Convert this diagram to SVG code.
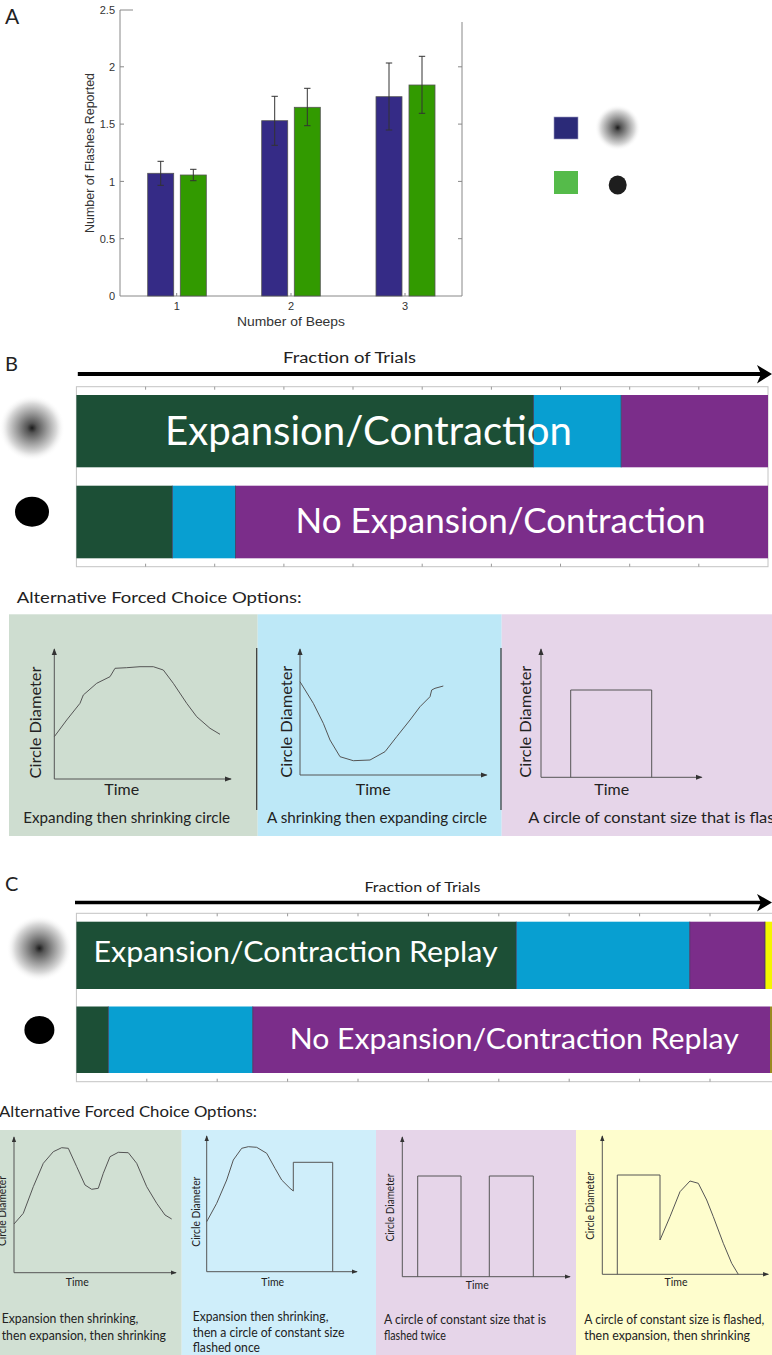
<svg xmlns="http://www.w3.org/2000/svg" width="772" height="1355" viewBox="0 0 772 1355">
<style>
.sans{font-family:"Liberation Sans",Arial,sans-serif;fill:#333}
.cal{font-family:Lato,"Open Sans",sans-serif;fill:#222}
.wht{font-family:Lato,"Open Sans",sans-serif;fill:#fff}
.ax{stroke:#888;stroke-width:1;fill:none}
.eb{stroke:#333;stroke-width:1;fill:none}
.cv{stroke:#555;stroke-width:1;fill:none}
.gax{stroke:#555;stroke-width:1;fill:none}
.frm{stroke:#c4c4c4;stroke-width:1;fill:#fff}
.tk{stroke:#999;stroke-width:1}
.dg{fill:#1C4F36}.cy{fill:#089FD1}.pu{fill:#7B2D8A}.ye{fill:#F5F500}
</style>
<defs>
<radialGradient id="blur" cx="0.5" cy="0.5" r="0.5">
<stop offset="0" stop-color="#1a1a1a"/>
<stop offset="0.15" stop-color="#555"/>
<stop offset="0.45" stop-color="#9a9a9a"/>
<stop offset="0.75" stop-color="#dcdcdc"/>
<stop offset="1" stop-color="#fff" stop-opacity="0"/>
</radialGradient>
<marker id="ah" viewBox="0 0 8 6" refX="7" refY="3" markerWidth="7" markerHeight="6" markerUnits="userSpaceOnUse" orient="auto">
<path d="M0,0 L8,3 L0,6 z" fill="#333"/>
</marker>
<marker id="ahs" viewBox="0 0 8 6" refX="7" refY="3" markerWidth="6" markerHeight="5" markerUnits="userSpaceOnUse" orient="auto">
<path d="M0,0 L8,3 L0,6 z" fill="#333"/>
</marker>
</defs>
<rect width="772" height="1355" fill="#fff"/>

<!-- Panel A -->
<g id="panelA">
<text x="5" y="24" class="cal" font-size="21">A</text>
<g id="chartA-axes">
<path class="ax" d="M120,10 H133 M120,10 V296 H462 V22"/>
<path class="ax" d="M120,66.8 h4 M120,124.1 h4 M120,181.4 h4 M120,238.7 h4 M462,66.8 h-4 M462,124.1 h-4 M462,181.4 h-4 M462,238.7 h-4 M176.7,296 v-3 M291,296 v-3 M405,296 v-3"/>
<g class="sans" font-size="11" text-anchor="end">
<text x="115" y="14">2.5</text>
<text x="115" y="71">2</text>
<text x="115" y="128">1.5</text>
<text x="115" y="185.5">1</text>
<text x="115" y="242.5">0.5</text>
<text x="115" y="300">0</text>
</g>
<g class="sans" font-size="11" text-anchor="middle">
<text x="176.7" y="310">1</text>
<text x="291" y="310">2</text>
<text x="405" y="310">3</text>
</g>
<text x="291" y="326" class="sans" font-size="13" text-anchor="middle" textLength="108" lengthAdjust="spacingAndGlyphs">Number of Beeps</text>
<text transform="translate(94,153) rotate(-90)" class="sans" font-size="13" text-anchor="middle" textLength="160" lengthAdjust="spacingAndGlyphs">Number of Flashes Reported</text>
</g>
<g id="barsA" stroke="#555" stroke-width="0.8">
<rect x="147.7" y="173.3" width="26" height="122.7" fill="#352B86"/>
<rect x="180.3" y="175" width="26" height="121" fill="#329A00"/>
<rect x="261.7" y="120.7" width="26" height="175.3" fill="#352B86"/>
<rect x="294.3" y="107.3" width="26" height="188.7" fill="#329A00"/>
<rect x="376" y="96.7" width="26" height="199.3" fill="#352B86"/>
<rect x="409" y="85" width="26" height="211" fill="#329A00"/>
</g>
<g id="errorbarsA" class="eb">
<path d="M160.7,161.3 V185.3 M157.5,161.3 h6.4 M157.5,185.3 h6.4"/>
<path d="M193.3,169.3 V180.7 M190.1,169.3 h6.4 M190.1,180.7 h6.4"/>
<path d="M274.7,96.3 V145.3 M271.5,96.3 h6.4 M271.5,145.3 h6.4"/>
<path d="M307.3,88.3 V125.7 M304.1,88.3 h6.4 M304.1,125.7 h6.4"/>
<path d="M389,63 V130 M385.8,63 h6.4 M385.8,130 h6.4"/>
<path d="M422,56.3 V113.3 M418.8,56.3 h6.4 M418.8,113.3 h6.4"/>
</g>
<g id="legendA">
<rect x="554" y="117" width="24" height="22" fill="#2B2A78" stroke="#9a9ac0" stroke-width="0.6"/>
<circle cx="617.7" cy="127.7" r="23" fill="url(#blur)"/>
<rect x="554" y="171" width="24" height="23" fill="#55BB4A"/>
<ellipse cx="617.7" cy="185" rx="9" ry="9.5" fill="#1e1e1e"/>
</g>
</g>

<!-- Panel B -->
<g id="panelB">
<text x="5" y="371" class="cal" font-size="20">B</text>
<text x="349.5" y="363" class="cal" font-size="15" text-anchor="middle" textLength="133" lengthAdjust="spacingAndGlyphs">Fraction of Trials</text>
<g id="arrowB">
<line x1="77.8" y1="374" x2="763" y2="374" stroke="#000" stroke-width="4"/>
<path d="M772,374 L757,365 L761,374 L757,383.5 Z" fill="#000"/>
</g>
<g id="chartB">
<rect class="frm" x="76.4" y="386.7" width="691.6" height="180"/>
<path class="tk" d="M145.6,386.7v3 M214.7,386.7v3 M283.9,386.7v3 M353.0,386.7v3 M422.2,386.7v3 M491.4,386.7v3 M560.5,386.7v3 M629.7,386.7v3 M698.8,386.7v3 M145.6,566.7v-3 M214.7,566.7v-3 M283.9,566.7v-3 M353.0,566.7v-3 M422.2,566.7v-3 M491.4,566.7v-3 M560.5,566.7v-3 M629.7,566.7v-3 M698.8,566.7v-3"/>
<g id="barB1">
<rect class="dg" x="76.4" y="395" width="457.1" height="72.3"/>
<rect class="cy" x="533.5" y="395" width="87.7" height="72.3"/>
<rect class="pu" x="621.2" y="395" width="146.8" height="72.3"/>
<path d="M533.5,395v72.3 M621.2,395v72.3" stroke="#3a3a5a" stroke-width="0.8"/>
<text x="368.5" y="445" class="wht" font-size="40" text-anchor="middle" textLength="407" lengthAdjust="spacingAndGlyphs">Expansion/Contraction</text>
</g>
<g id="barB2">
<rect class="dg" x="76.4" y="485.7" width="96" height="72.6"/>
<rect class="cy" x="172.4" y="485.7" width="63.1" height="72.6"/>
<rect class="pu" x="235.5" y="485.7" width="532.5" height="72.6"/>
<path d="M172.4,485.7v72.6 M235.5,485.7v72.6" stroke="#3a3a5a" stroke-width="0.8"/>
<text x="500.5" y="533" class="wht" font-size="35" text-anchor="middle" textLength="410" lengthAdjust="spacingAndGlyphs">No Expansion/Contraction</text>
</g>
</g>
<g id="iconsB">
<circle cx="32" cy="428" r="33" fill="url(#blur)"/>
<ellipse cx="32" cy="511.7" rx="17" ry="15" fill="#000"/>
</g>
<text x="16.7" y="602.7" class="cal" font-size="16" textLength="285" lengthAdjust="spacingAndGlyphs">Alternative Forced Choice Options:</text>
<g id="afcB1">
<rect x="9" y="614.3" width="248.7" height="221.7" fill="#CEDDD0"/>
<path class="gax" d="M54.3,779 V649" marker-end="url(#ah)"/>
<path class="gax" d="M54.3,779 H231" marker-end="url(#ah)"/>
<path class="cv" d="M54.3,736.7 L66.7,720 L80,703.3 L83.3,695 L96.7,683.3 L110,676.7 L115,668.3 L126.7,667.7 L140,666.7 L153.3,666.7 L163.3,670 L173.3,683.3 L186.7,703.3 L196.7,716.7 L210,728.3 L220,734.3"/>
<text transform="translate(41,722.5) rotate(-90)" class="cal" font-size="16" text-anchor="middle" textLength="112" lengthAdjust="spacingAndGlyphs">Circle Diameter</text>
<text x="121.7" y="794.5" class="cal" font-size="16" text-anchor="middle">Time</text>
<text x="23.3" y="822.5" class="cal" font-size="15" textLength="206.7" lengthAdjust="spacingAndGlyphs">Expanding then shrinking circle</text>
</g>
<g id="afcB2">
<rect x="257.7" y="614.3" width="244" height="221.7" fill="#BDE8F7"/>
<path class="gax" d="M300,775 V649" marker-end="url(#ah)"/>
<path class="gax" d="M300,775 H486.7" marker-end="url(#ah)"/>
<path class="cv" d="M300,681.7 L313.3,703.3 L323.3,723.3 L330,740 L340,756.7 L353.3,760.7 L370,760 L385,751.7 L396.7,736.7 L410,720 L420,706.7 L430,696.7 L431.7,690 L435,688.3 L443.3,686"/>
<text transform="translate(291.5,721.7) rotate(-90)" class="cal" font-size="16" text-anchor="middle" textLength="112" lengthAdjust="spacingAndGlyphs">Circle Diameter</text>
<text x="373.3" y="794.5" class="cal" font-size="16" text-anchor="middle">Time</text>
<text x="267" y="822.5" class="cal" font-size="15" textLength="220" lengthAdjust="spacingAndGlyphs">A shrinking then expanding circle</text>
</g>
<g id="afcB3">
<rect x="501.7" y="614.3" width="270.3" height="221.7" fill="#E6D5E9"/>
<path class="gax" d="M541,777.3 V649" marker-end="url(#ah)"/>
<path class="gax" d="M541,777.3 H701.7" marker-end="url(#ah)"/>
<path class="cv" d="M570.7,777.3 V690 H651.7 V777.3"/>
<text transform="translate(530.5,721.7) rotate(-90)" class="cal" font-size="16" text-anchor="middle" textLength="112" lengthAdjust="spacingAndGlyphs">Circle Diameter</text>
<text x="611.7" y="794.5" class="cal" font-size="16" text-anchor="middle">Time</text>
<text x="528.3" y="822.5" class="cal" font-size="15" textLength="273" lengthAdjust="spacingAndGlyphs">A circle of constant size that is flashed</text>
</g>
<g id="dividersB" stroke="#333" stroke-width="1.2">
<line x1="256.7" y1="648" x2="256.7" y2="810"/>
<line x1="501" y1="648" x2="501" y2="810"/>
</g>
</g>

<!-- Panel C -->
<g id="panelC">
<text x="5" y="891" class="cal" font-size="20">C</text>
<text x="422.4" y="891.5" class="cal" font-size="14" text-anchor="middle" textLength="116" lengthAdjust="spacingAndGlyphs">Fraction of Trials</text>
<g id="arrowC">
<line x1="75" y1="902.5" x2="763" y2="902.5" stroke="#000" stroke-width="3.5"/>
<path d="M772,902.5 L757,894 L761,902.5 L757,911.5 Z" fill="#000"/>
</g>
<g id="chartC">
<rect class="frm" x="76.4" y="913.3" width="710" height="168.4"/>
<path class="tk" d="M146.8,913.3v3 M217.2,913.3v3 M287.6,913.3v3 M358.0,913.3v3 M428.4,913.3v3 M498.8,913.3v3 M569.2,913.3v3 M639.6,913.3v3 M710.0,913.3v3 M146.8,1081.7v-3 M217.2,1081.7v-3 M287.6,1081.7v-3 M358.0,1081.7v-3 M428.4,1081.7v-3 M498.8,1081.7v-3 M569.2,1081.7v-3 M639.6,1081.7v-3 M710.0,1081.7v-3"/>
<g id="barC1">
<rect class="dg" x="76.4" y="921.7" width="439.9" height="67.3"/>
<rect class="cy" x="516.3" y="921.7" width="173.4" height="67.3"/>
<rect class="pu" x="689.7" y="921.7" width="75.3" height="67.3"/>
<rect class="ye" x="765" y="921.7" width="7" height="67.3"/>
<path d="M516.3,921.7v67.3 M689.7,921.7v67.3 M765,921.7v67.3" stroke="#3a3a5a" stroke-width="0.8"/>
<text x="93.6" y="962" class="wht" font-size="29" textLength="404" lengthAdjust="spacingAndGlyphs">Expansion/Contraction Replay</text>
</g>
<g id="barC2">
<rect class="dg" x="76.4" y="1006.5" width="32" height="66.5"/>
<rect class="cy" x="108.4" y="1006.5" width="144.3" height="66.5"/>
<rect class="pu" x="252.7" y="1006.5" width="517.3" height="66.5"/>
<rect x="770" y="1006.5" width="2" height="66.5" fill="#9a8a20"/>
<path d="M108.4,1006.5v66.5 M252.7,1006.5v66.5" stroke="#3a3a5a" stroke-width="0.8"/>
<text x="289.7" y="1048.5" class="wht" font-size="29" textLength="449" lengthAdjust="spacingAndGlyphs">No Expansion/Contraction Replay</text>
</g>
</g>
<g id="iconsC">
<circle cx="39.4" cy="948.3" r="33" fill="url(#blur)"/>
<ellipse cx="39.4" cy="1030" rx="15" ry="14" fill="#000"/>
</g>
<text x="-1" y="1117" class="cal" font-size="16" textLength="258" lengthAdjust="spacingAndGlyphs">Alternative Forced Choice Options:</text>
<g id="afcC1">
<rect x="0" y="1130" width="181.7" height="225" fill="#D1E0D3"/>
<path class="gax" d="M14,1272.7 V1137" marker-end="url(#ahs)"/>
<path class="gax" d="M14,1272.7 H176" marker-end="url(#ahs)"/>
<path class="cv" d="M14,1224 L23.3,1213.3 L33.3,1186.7 L43.3,1163.3 L53.3,1151.7 L61.7,1147.7 L68.3,1148.3 L76.7,1166.7 L85,1185 L91.7,1189.3 L98.3,1188.3 L103.3,1173.3 L110,1156.7 L118.3,1152.3 L128.3,1152.7 L136.7,1163.3 L146.7,1186.7 L156.7,1203.3 L165,1215 L171.7,1219"/>
<text transform="translate(6,1211) rotate(-90)" class="cal" font-size="11" text-anchor="middle" textLength="70" lengthAdjust="spacingAndGlyphs">Circle Diameter</text>
<text x="77.3" y="1285.7" class="cal" font-size="10.5" text-anchor="middle">Time</text>
<text x="1.7" y="1323.3" class="cal" font-size="13" textLength="136.7" lengthAdjust="spacingAndGlyphs">Expansion then shrinking,</text>
<text x="1.7" y="1339.7" class="cal" font-size="13" textLength="164.3" lengthAdjust="spacingAndGlyphs">then expansion, then shrinking</text>
</g>
<g id="afcC2">
<rect x="181.7" y="1130" width="194.3" height="225" fill="#CFEEFA"/>
<path class="gax" d="M206.7,1271.7 V1136" marker-end="url(#ahs)"/>
<path class="gax" d="M206.7,1271.7 H357" marker-end="url(#ahs)"/>
<path class="cv" d="M206.7,1221.7 L216.7,1203.3 L226.7,1180 L233.3,1160 L241.7,1148.3 L248.3,1146.7 L256.7,1147.3 L266.7,1153.3 L275,1168.3 L281.7,1180 L290,1188.3 L293.3,1191 V1162.3 H332.7 V1271.7"/>
<text transform="translate(199.5,1211.7) rotate(-90)" class="cal" font-size="11" text-anchor="middle" textLength="70" lengthAdjust="spacingAndGlyphs">Circle Diameter</text>
<text x="272.7" y="1285.7" class="cal" font-size="10.5" text-anchor="middle">Time</text>
<text x="192.7" y="1320.7" class="cal" font-size="13" textLength="135.7" lengthAdjust="spacingAndGlyphs">Expansion then shrinking,</text>
<text x="192.7" y="1336.7" class="cal" font-size="13" textLength="151.7" lengthAdjust="spacingAndGlyphs">then a circle of constant size</text>
<text x="192.7" y="1352.3" class="cal" font-size="13" textLength="67.3" lengthAdjust="spacingAndGlyphs">flashed once</text>
</g>
<g id="afcC3">
<rect x="376" y="1130" width="200" height="225" fill="#E6D5E9"/>
<path class="gax" d="M402.3,1276.7 V1137" marker-end="url(#ahs)"/>
<path class="gax" d="M402.3,1276.7 H570" marker-end="url(#ahs)"/>
<path class="cv" d="M417.7,1276.7 V1176 H461 V1276.7 M489.3,1276.7 V1176 H533.3 V1276.7"/>
<text transform="translate(394,1207.5) rotate(-90)" class="cal" font-size="11" text-anchor="middle" textLength="68" lengthAdjust="spacingAndGlyphs">Circle Diameter</text>
<text x="477.3" y="1289" class="cal" font-size="10.5" text-anchor="middle">Time</text>
<text x="384" y="1324" class="cal" font-size="13" textLength="162" lengthAdjust="spacingAndGlyphs">A circle of constant size that is</text>
<text x="384" y="1340" class="cal" font-size="13" textLength="62" lengthAdjust="spacingAndGlyphs">flashed twice</text>
</g>
<g id="afcC4">
<rect x="576" y="1130" width="196" height="225" fill="#FEFDCD"/>
<path class="gax" d="M602.3,1274.3 V1136" marker-end="url(#ahs)"/>
<path class="gax" d="M602.3,1274.3 H768.3" marker-end="url(#ahs)"/>
<path class="cv" d="M617.3,1274.3 V1175 H660 V1240 L670,1216.7 L680,1191.7 L690,1181 L698.3,1183.3 L706.7,1200 L713.3,1216.7 L723.3,1243.3 L731.7,1263.3 L738.3,1274.3"/>
<text transform="translate(593.5,1205.8) rotate(-90)" class="cal" font-size="11" text-anchor="middle" textLength="68" lengthAdjust="spacingAndGlyphs">Circle Diameter</text>
<text x="676" y="1285.7" class="cal" font-size="10.5" text-anchor="middle">Time</text>
<text x="584.3" y="1324" class="cal" font-size="13" textLength="180" lengthAdjust="spacingAndGlyphs">A circle of constant size is flashed,</text>
<text x="584.3" y="1340" class="cal" font-size="13" textLength="165.7" lengthAdjust="spacingAndGlyphs">then expansion, then shrinking</text>
</g>
</g>
</svg>
